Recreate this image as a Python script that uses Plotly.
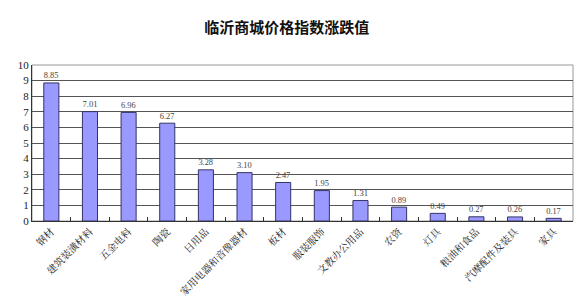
import plotly.graph_objects as go

categories = ["钢材", "建筑装潢材料", "五金电料", "陶瓷", "日用品", "家用电器和音像器材",
              "板材", "服装服饰", "文教办公用品", "农资", "灯具", "粮油和食品",
              "汽摩配件及装具", "家具"]
values = [8.85, 7.01, 6.96, 6.27, 3.28, 3.10, 2.47, 1.95, 1.31, 0.89, 0.49, 0.27, 0.26, 0.17]
value_labels = ["8.85", "7.01", "6.96", "6.27", "3.28", "3.10", "2.47", "1.95", "1.31",
                "0.89", "0.49", "0.27", "0.26", "0.17"]
title_text = "临沂商城价格指数涨跌值"

serif = "Liberation Serif, DejaVu Serif, serif"
cjk_serif = "Noto Serif CJK SC, Noto Sans CJK SC, serif"

fig = go.Figure(go.Bar(
    x=categories, y=values,
    text=value_labels, textposition="outside",
    textfont=dict(family=serif, size=11, color="#444444"),
    marker=dict(color="#9999FF", line=dict(color="#333366", width=1)),
    cliponaxis=False,
))

fig.update_layout(
    width=585, height=306,
    margin=dict(l=32, r=12, t=65, b=85, autoexpand=False),
    paper_bgcolor="white", plot_bgcolor="white",
    bargap=0.61,
    showlegend=False,
    title=dict(text="<b>" + title_text + "</b>", x=0.49, xanchor="center", y=0.91, yanchor="middle",
               font=dict(family="Noto Sans CJK SC", size=15, color="#111111")),
    xaxis=dict(
        type="category", automargin=False,
        tickangle=-45,
        tickfont=dict(family=cjk_serif, size=10, color="#222222"),
        showline=True, linecolor="#333333", linewidth=1,
        ticks="inside", tickson="boundaries", ticklen=4, tickcolor="#333333",
        showgrid=False,
    ),
    yaxis=dict(
        range=[0, 10], dtick=1, automargin=False,
        tickfont=dict(family=serif, size=11, color="#222222"),
        showline=True, linecolor="#333333", linewidth=1,
        showgrid=True, gridcolor="#555555", gridwidth=1,
        ticks="", zeroline=False,
    ),
    shapes=[dict(type="rect", xref="paper", yref="paper", x0=0, x1=1, y0=0, y1=1,
                 line=dict(color="#999999", width=1), layer="below")],
)

fig.write_html("out.html")
